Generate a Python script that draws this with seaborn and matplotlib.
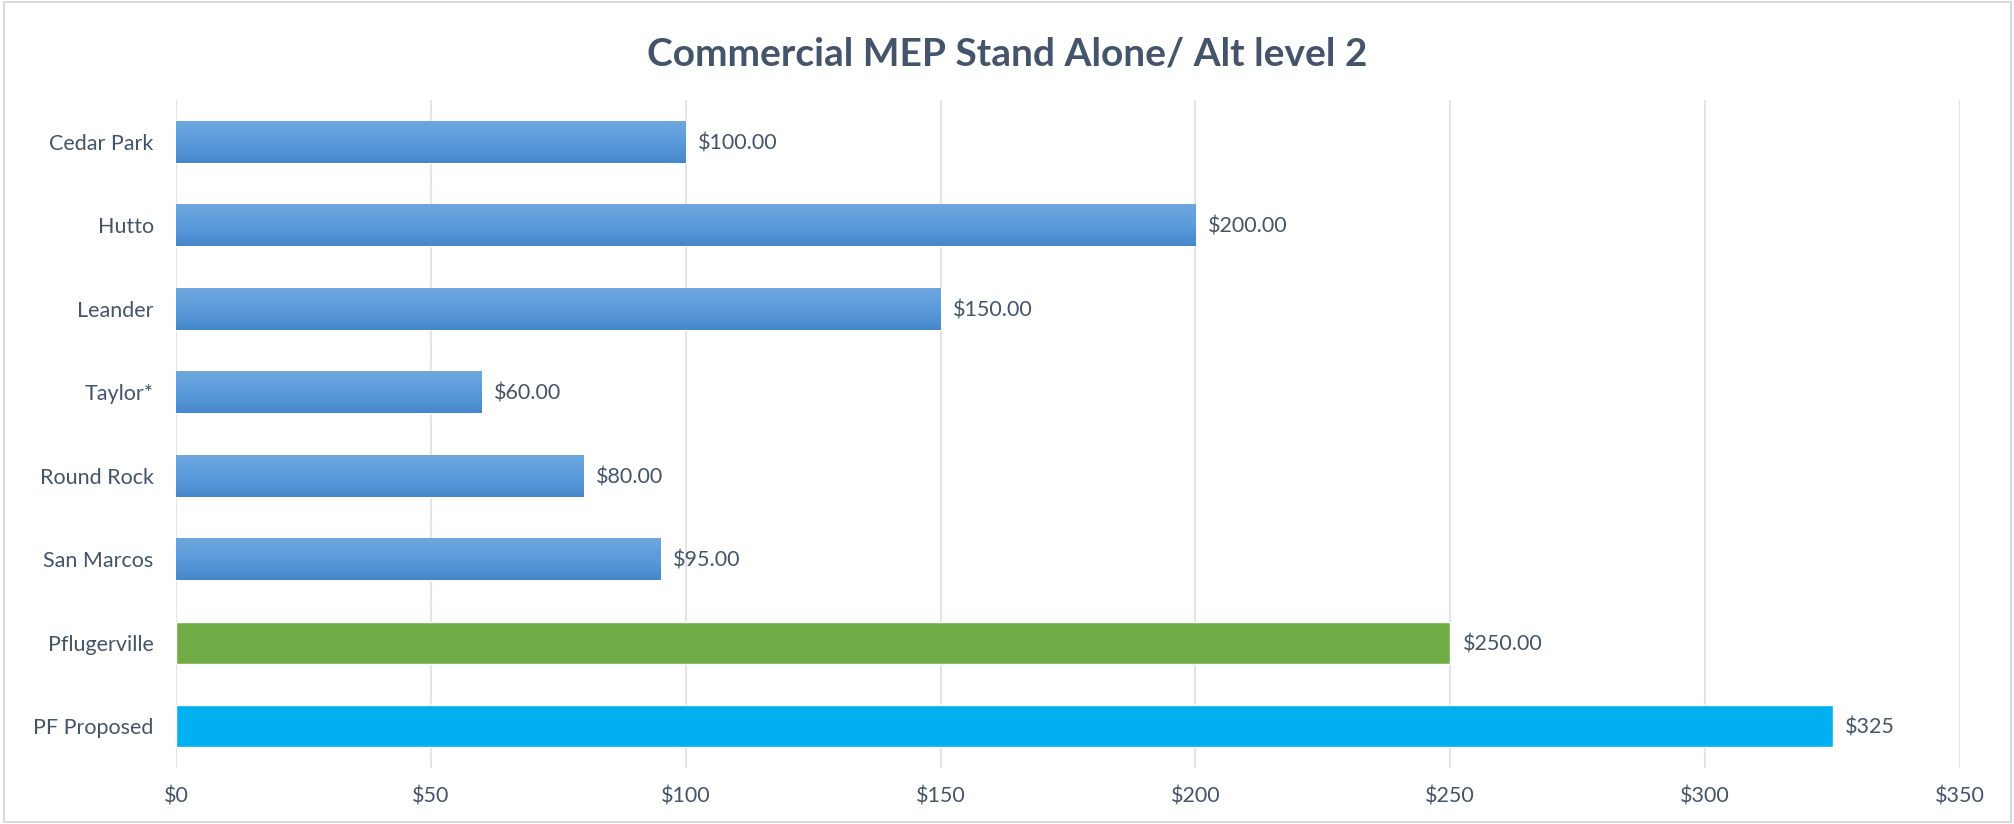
import matplotlib
matplotlib.use("Agg")
import matplotlib.pyplot as plt
import seaborn as sns
import pandas as pd
import numpy as np
from matplotlib.patches import Rectangle
from matplotlib.colors import LinearSegmentedColormap

cities = ["Cedar Park", "Hutto", "Leander", "Taylor*", "Round Rock", "San Marcos", "Pflugerville", "PF Proposed"]
fees = [100, 200, 150, 60, 80, 95, 250, 325]
labels = ["$100.00", "$200.00", "$150.00", "$60.00", "$80.00", "$95.00", "$250.00", "$325"]
bar_colors = ["#5B9BD5"] * 6 + ["#70AD47", "#00B0F0"]
xticks = [0, 50, 100, 150, 200, 250, 300, 350]
title = "Commercial MEP Stand Alone/ Alt level 2"

sns.set_theme(style="white")
plt.rcParams["font.family"] = ["Lato", "DejaVu Sans"]
text_color = "#44546A"

df = pd.DataFrame({"city": cities, "fee": fees})

fig = plt.figure(figsize=(20.15, 8.24), dpi=100)
ax = fig.add_axes([0.0873, 0.068, 0.8854, 0.8106])

sns.barplot(data=df, x="fee", y="city", hue="city", palette=bar_colors,
            legend=False, width=0.5, ax=ax, saturation=1, zorder=3)

# gradient on blue bars
grad = np.linspace(0, 1, 100).reshape(-1, 1)
cmap = LinearSegmentedColormap.from_list("g", ["#6FA7DE", "#5A9BDB", "#4588CA"])
for patch, c in zip(ax.patches, bar_colors):
    if c == "#5B9BD5":
        x0, y0 = patch.get_x(), patch.get_y()
        w, h = patch.get_width(), patch.get_height()
        im = ax.imshow(grad, extent=[x0, x0 + w, y0 + h, y0], aspect="auto",
                       cmap=cmap, zorder=4, origin="upper")
        im.set_clip_path(patch)

ax.set_xlim(0, 350)
ax.set_ylim(7.5, -0.5)
ax.set_xticks(xticks)
ax.set_xticklabels([f"${v}" for v in xticks])
ax.set_xlabel("")
ax.set_ylabel("")
ax.grid(axis="x", color="#E1E5EA", linewidth=1.5, zorder=0)
ax.grid(axis="y", visible=False)
for s in ax.spines.values():
    s.set_visible(False)
ax.tick_params(axis="both", length=0, labelsize=15.5, colors=text_color)
ax.tick_params(axis="y", pad=16)
ax.tick_params(axis="x", pad=13)

for i, (v, lab) in enumerate(zip(fees, labels)):
    ax.annotate(lab, xy=(v, i), xytext=(9, -1), textcoords="offset points",
                va="center", ha="left", fontsize=15.5, color=text_color, zorder=5)

fig.text(0.5, 0.935, title, ha="center", va="center", fontsize=28,
         fontweight="bold", color=text_color)

fig.patches.append(Rectangle((0.002, 0.003), 0.996, 0.994, transform=fig.transFigure,
                             fill=False, edgecolor="#D9D9D9", linewidth=1.5))

fig.savefig("out.png", dpi=100, facecolor="white")
